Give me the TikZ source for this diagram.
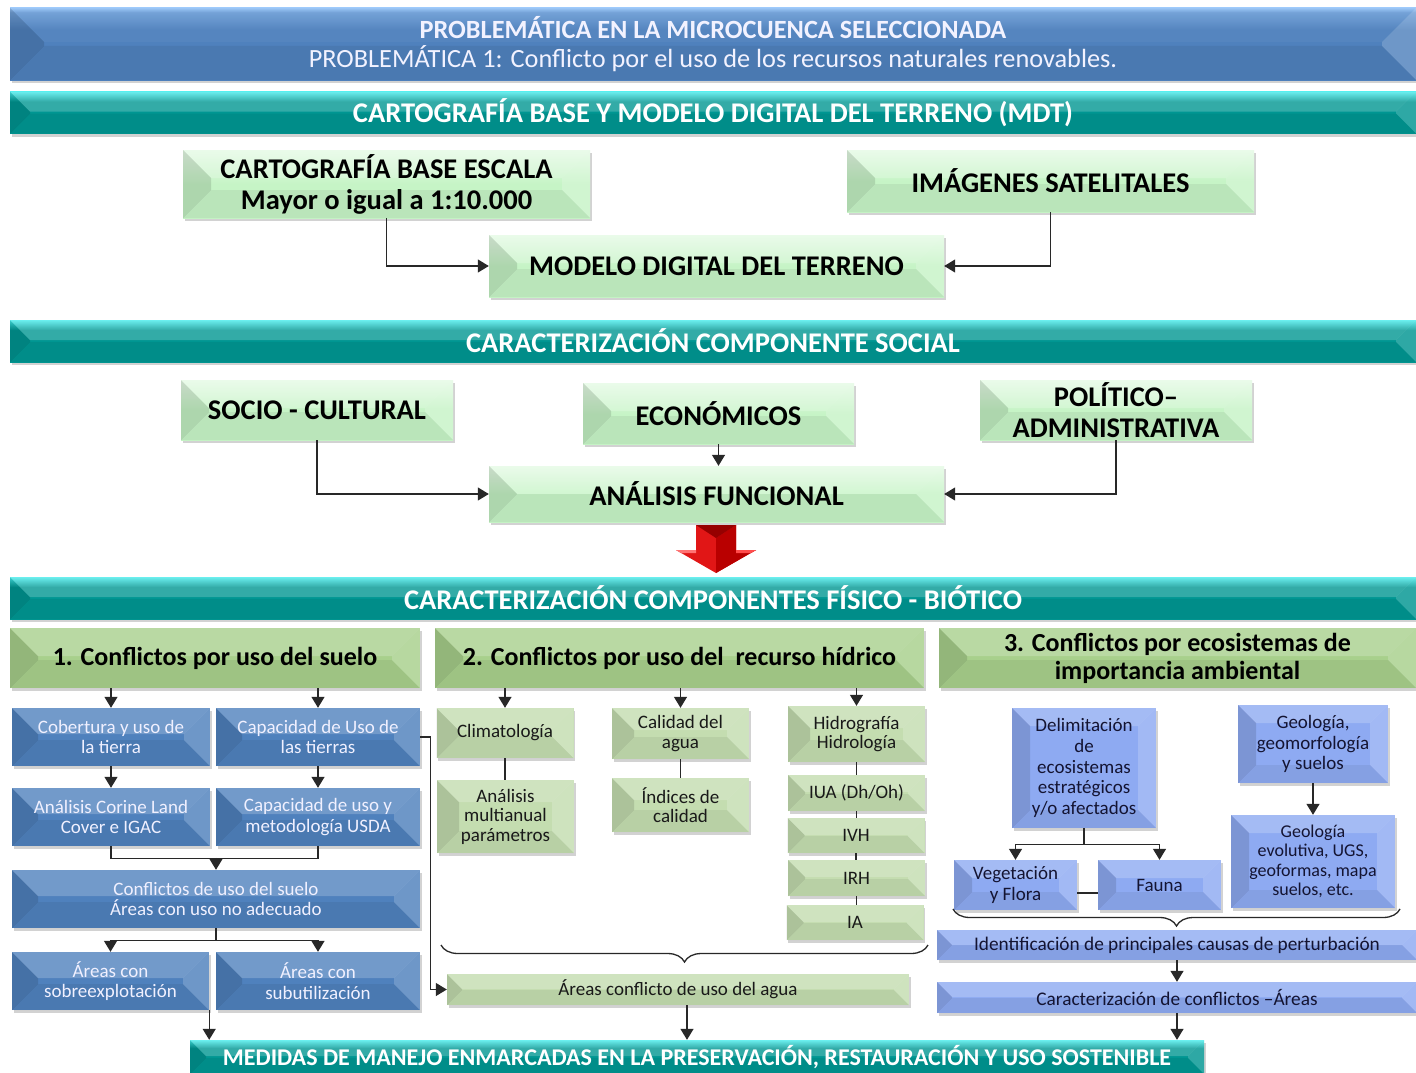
\documentclass[tikz,border=0pt]{standalone}
\usepackage{fontspec}
\setmainfont{Carlito}
\usetikzlibrary{arrows.meta,shadows,decorations.pathreplacing}

\definecolor{bandblue}{RGB}{79,129,189}
\definecolor{bandbluetop}{RGB}{150,195,245}
\definecolor{bandteal}{RGB}{0,150,146}
\definecolor{bandtealtop}{RGB}{70,235,235}
\definecolor{boxgreen}{RGB}{198,244,198}
\definecolor{headgreen}{RGB}{168,208,140}
\definecolor{colblue}{RGB}{79,129,189}
\definecolor{colgreen}{RGB}{196,221,176}
\definecolor{colviolet}{RGB}{142,170,242}
\definecolor{arrowred}{RGB}{225,22,22}
\definecolor{arrowdark}{RGB}{185,0,0}
\definecolor{arrowtop}{RGB}{150,0,0}
\definecolor{linegray}{RGB}{40,40,40}

\pgfdeclareverticalshading{blueshade}{100bp}{color(0bp)=(bandblue); color(25bp)=(bandblue); color(60bp)=(bandblue); color(72bp)=(bandblue!55!bandbluetop); color(75bp)=(bandbluetop); color(100bp)=(bandbluetop)}
\pgfdeclareverticalshading{tealshade}{100bp}{color(0bp)=(bandteal); color(25bp)=(bandteal); color(63bp)=(bandteal); color(75bp)=(bandtealtop); color(100bp)=(bandtealtop)}

\begin{document}
\begin{tikzpicture}[x=1pt,y=-1pt,
    bevtop/.store in=\bevtop, bevtop=.20,
    bevel/.style={path picture={
      \fill[black,fill opacity=.12] (path picture bounding box.north west) -- (path picture bounding box.south west)
        -- ([xshift=#1,yshift=#1]path picture bounding box.south west) -- ([xshift=#1,yshift=-#1]path picture bounding box.north west) -- cycle;
      \fill[white,fill opacity=\bevtop] (path picture bounding box.north west) -- (path picture bounding box.north east)
        -- ([xshift=-#1,yshift=-#1]path picture bounding box.north east) -- ([xshift=#1,yshift=-#1]path picture bounding box.north west) -- cycle;
      \fill[white,fill opacity=.18] (path picture bounding box.north east) -- (path picture bounding box.south east)
        -- ([xshift=-#1,yshift=#1]path picture bounding box.south east) -- ([xshift=-#1,yshift=-#1]path picture bounding box.north east) -- cycle;
      \fill[black,fill opacity=.06] (path picture bounding box.south west) -- (path picture bounding box.south east)
        -- ([xshift=-#1,yshift=#1]path picture bounding box.south east) -- ([xshift=#1,yshift=#1]path picture bounding box.south west) -- cycle;
    }},
    base/.style={inner sep=0pt, align=center, drop shadow={opacity=.35,shadow xshift=1.5pt,shadow yshift=-3pt}},
    titleband/.style={base, bevtop=.04, bevel=34pt, shading=blueshade,
      text={rgb,255:red,242;green,242;blue,255}, font=\fontsize{26.3}{29}\selectfont, minimum width=1406pt, minimum height=72pt},
    band/.style={base, bevel=20pt, shading=tealshade,
      text=white, font=\fontsize{28.5}{31}\selectfont\bfseries, minimum width=1406pt, minimum height=42pt},
    greenbox/.style={base, bevel=28pt, top color=boxgreen!45!white, bottom color=boxgreen, middle color=boxgreen,
      font=\fontsize{28.5}{31}\selectfont\bfseries},
    headbox/.style={base, bevel=28pt, fill=headgreen, font=\fontsize{26}{28}\selectfont\bfseries, minimum height=60pt},
    bluebox/.style={base, bevel=26pt, fill=colblue, text={rgb,255:red,240;green,240;blue,255},
      font=\fontsize{19}{20.5}\selectfont, minimum height=58pt},
    grnbox/.style={base, bevel=22pt, fill=colgreen, text={rgb,255:red,25;green,25;blue,25},
      font=\fontsize{19}{19.5}\selectfont, minimum width=137pt},
    violetbox/.style={base, bevel=18pt, fill=colviolet, text={rgb,255:red,20;green,20;blue,50},
      font=\fontsize{19}{20.7}\selectfont},
    conn/.style={draw=linegray, line width=1.3pt},
    arr/.style={conn, -{Triangle[width=13pt,length=11pt]}},
    bracedown/.style={conn, decorate, decoration={brace,mirror,amplitude=17pt}}]

\useasboundingbox (0,0) rectangle (1416,1073);
\fill[white] (0,0) rectangle (1416,1073);

% cabecera
\node[titleband] (titulo) at (713,44) {{\bfseries PROBLEMÁTICA EN LA MICROCUENCA SELECCIONADA}\\PROBLEMÁTICA 1: Conflicto por el uso de los recursos naturales renovables.};

% cartografia
\node[band] (bcart) at (713,112.5) {CARTOGRAFÍA BASE Y MODELO DIGITAL DEL TERRENO (MDT)};
\node[greenbox, minimum width=407pt, minimum height=68pt] (carto) at (386.5,184) {CARTOGRAFÍA BASE ESCALA\\Mayor o igual a 1:10.000};
\node[greenbox, minimum width=407pt, minimum height=62pt] (imag) at (1050.5,181) {IMÁGENES SATELITALES};
\node[greenbox, minimum width=455pt, minimum height=62pt] (mdt) at (716.5,266) {MODELO DIGITAL DEL TERRENO};
\draw[arr] (carto.south) |- (mdt.west);
\draw[arr] (imag.south) |- (mdt.east);

% componente social
\node[band] (bsoc) at (713,341) {CARACTERIZACIÓN COMPONENTE SOCIAL};
\node[greenbox, minimum width=272pt, minimum height=60pt] (socio) at (317,410) {SOCIO - CULTURAL};
\node[greenbox, minimum width=271pt, minimum height=61pt] (econ) at (718.5,413.5) {ECONÓMICOS};
\node[greenbox, minimum width=272pt, minimum height=60pt] (poli) at (1116,410) {POLÍTICO–\\ADMINISTRATIVA};
\node[greenbox, minimum width=455pt, minimum height=56pt] (anal) at (716.5,494) {ANÁLISIS FUNCIONAL};
\draw[arr] (socio.south) |- (anal.west);
\draw[arr] (econ.south) -- (econ.south |- anal.north);
\draw[arr] (poli.south) |- (anal.east);

% flecha roja
\fill[arrowred] (696,525) -- (736,525) -- (736,550) -- (756,550) -- (716,573) -- (676,550) -- (696,550) -- cycle;
\fill[arrowdark] (716,538) -- (736,525) -- (736,550) -- (756,550) -- (716,573) -- cycle;
\fill[arrowtop] (696,525) -- (736,525) -- (716,538) -- cycle;
\fill[red!55!white] (676,550) -- (696,550) -- (696,553) -- (681,553) -- cycle;
\fill[red!70!white] (736,550) -- (756,550) -- (751,553) -- (736,553) -- cycle;

% fisico - biotico
\node[band] (bfis) at (713,598) {CARACTERIZACIÓN COMPONENTES FÍSICO - BIÓTICO};
\node[headbox, minimum width=410pt] (h1) at (215,658) {1. Conflictos por uso del suelo};
\node[headbox, minimum width=489pt] (h2) at (679.5,658) {2. Conflictos por uso del\ \ recurso hídrico};
\node[headbox, minimum width=477pt] (h3) at (1177.5,658) {3. Conflictos por ecosistemas de\\importancia ambiental};

% 1. suelo
\node[bluebox, minimum width=198pt] (cob) at (111,737) {Cobertura y uso de\\la tierra};
\node[bluebox, minimum width=204pt] (capuso) at (318,737) {Capacidad de Uso de\\las tierras};
\node[bluebox, minimum width=198pt] (corine) at (111,817) {Análisis Corine Land\\Cover e IGAC};
\node[bluebox, minimum width=204pt] (usda) at (318,817) {Capacidad de uso y\\metodología USDA};
\node[bluebox, minimum width=408pt] (conf) at (216,899) {Conflictos de uso del suelo\\Áreas con uso no adecuado};
\node[bluebox, minimum width=197pt] (sobre) at (110.5,981) {Áreas con\\sobreexplotación};
\node[bluebox, minimum width=204pt] (subu) at (318,981) {Áreas con\\subutilización};
\draw[arr] (h1.south -| cob.north) -- (cob.north);
\draw[arr] (h1.south -| capuso.north) -- (capuso.north);
\draw[arr] (cob.south) -- (corine.north);
\draw[arr] (capuso.south) -- (usda.north);
\draw[conn] (corine.south) -- ++(0,12) -| (usda.south);
\draw[arr] ([yshift=12pt]conf.north) -- (conf.north);
\draw[conn] (conf.south) -- ++(0,12) coordinate (split);
\draw[arr] (split) -| (sobre.north);
\draw[arr] (split) -| (subu.north);

% 2. hidrico
\node[grnbox, minimum height=50pt] (clima) at (505,733) {Climatología};
\node[grnbox, minimum height=73pt] (multi) at (505.5,816.5) {Análisis\\multianual\\parámetros};
\node[grnbox, minimum height=51pt] (calid) at (680.5,733.5) {Calidad del\\agua};
\node[grnbox, minimum height=54pt] (indic) at (680.5,805) {Índices de\\calidad};
\node[grnbox, minimum height=56pt] (hidro) at (856.5,734) {Hidrografía\\Hidrología};
\node[grnbox, bevel=17pt, minimum height=36pt] (iua) at (856.5,793) {IUA (Dh/Oh)};
\node[grnbox, bevel=17pt, minimum height=35pt] (ivh) at (856,835.5) {IVH};
\node[grnbox, bevel=17pt, minimum height=36pt] (irh) at (856.5,878) {IRH};
\node[grnbox, bevel=17pt, minimum height=35pt] (ia) at (855,922.5) {IA};
\node[grnbox, bevel=15pt, minimum width=462pt, minimum height=31pt] (agua) at (678,989.5) {Áreas conflicto de uso del agua};
\draw[arr] (h2.south -| clima.north) -- (clima.north);
\draw[arr] (h2.south -| calid.north) -- (calid.north);
\draw[arr] (h2.south -| hidro.north) -- (hidro.north);
\draw[conn] (clima.south) -- (clima.south |- multi.north);
\draw[conn] (calid.south) -- (indic.north);
\draw[conn] (hidro.south) -- (iua.north);
\draw[conn] (iua.south) -- (iua.south |- ivh.north);
\draw[conn] (ivh.south) -- (ivh.south |- irh.north);
\draw[conn] (irh.south) -- (irh.south |- ia.north);
\coordinate (b2a) at (441,945);
\coordinate (b2b) at (928,945);
\draw[bracedown] (b2a) -- (b2b);
\draw[arr] (capuso.east) -- ++(10,0) |- (agua.west);

% 3. ecosistemas
\node[violetbox, minimum width=144pt, minimum height=120pt] (deli) at (1084,768) {Delimitación\\de\\ecosistemas\\estratégicos\\y/o afectados};
\node[violetbox, minimum width=150pt, minimum height=78pt] (geo) at (1313,744) {Geología,\\geomorfología\\y suelos};
\node[violetbox, minimum width=164pt, minimum height=93pt, font=\fontsize{18}{19.3}\selectfont] (geoevo) at (1313,861.5) {Geología\\evolutiva, UGS,\\geoformas, mapa\\suelos, etc.};
\node[violetbox, minimum width=123pt, minimum height=50pt] (veg) at (1015.5,885) {Vegetación\\y Flora};
\node[violetbox, minimum width=123pt, minimum height=50pt] (fauna) at (1159.5,885) {Fauna};
\node[violetbox, bevel=15pt, minimum width=480pt, minimum height=30pt, font=\fontsize{19.3}{21}\selectfont] (ident) at (1177,945) {Identificación de principales causas de perturbación};
\node[violetbox, bevel=15pt, minimum width=480pt, minimum height=31pt, font=\fontsize{19.3}{21}\selectfont] (carac) at (1177,997.5) {Caracterización de conflictos –Áreas};
\draw[conn] (deli.south) -- ++(0,16) coordinate (fork);
\draw[arr] (fork) -| (veg.north);
\draw[arr] (fork) -| (fauna.north);
\draw[conn] ([yshift=-8pt]veg.east) -- ([yshift=-8pt]fauna.west);
\draw[arr] (geo.south) -- (geoevo.north);
\coordinate (b3a) at (953,909);
\coordinate (b3b) at (1400,909);
\draw[bracedown] (b3a) -- (b3b);
\draw[arr] (ident.south) -- (carac.north);

% medidas
\node[band, minimum width=1014pt, minimum height=34pt, bevel=16pt, font=\fontsize{24}{26}\selectfont\bfseries] (medidas) at (697,1057) {MEDIDAS DE MANEJO ENMARCADAS EN LA PRESERVACIÓN, RESTAURACIÓN Y USO SOSTENIBLE};
\draw[arr] (sobre.south east) -- (sobre.south east |- medidas.north);
\draw[arr] ([xshift=9pt]agua.south) -- ([xshift=9pt]agua.south |- medidas.north);
\draw[arr] (carac.south) -- (carac.south |- medidas.north);
\end{tikzpicture}
\end{document}
